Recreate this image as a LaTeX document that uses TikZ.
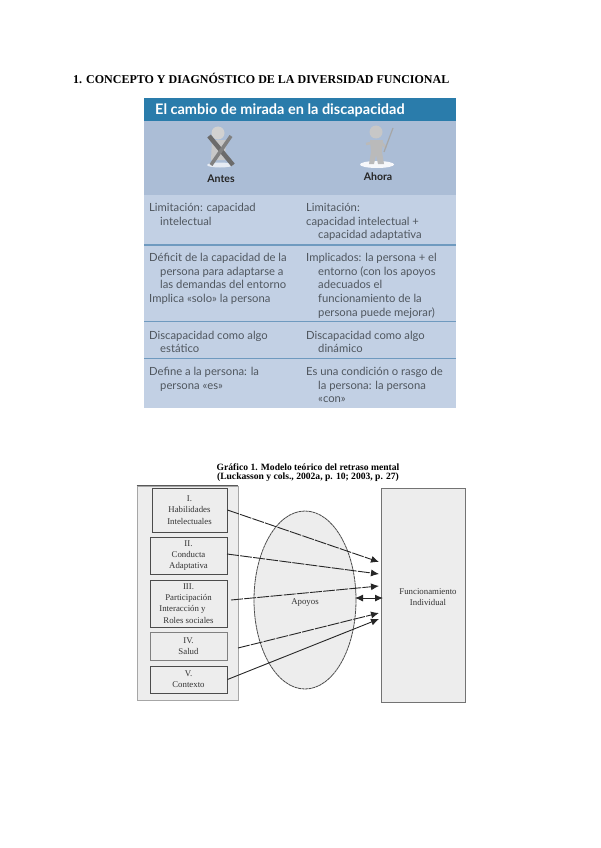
\documentclass[tikz,border=0pt]{standalone}
\usepackage{fontspec}
\setmainfont{Liberation Serif}
\newfontfamily\tabfont{Lato}
\usetikzlibrary{arrows.meta,shapes.geometric}
\definecolor{headblue}{HTML}{2A7CAB}
\definecolor{bandtop}{HTML}{ABBDD6}
\definecolor{bandlow}{HTML}{C2D0E4}
\definecolor{ruleblue}{HTML}{6F9ABF}
\definecolor{tabtext}{HTML}{4F565E}
\definecolor{panelgray}{HTML}{EDEDED}
\tikzset{
  page title/.style={anchor=base west,inner sep=0pt,font=\fontsize{12}{14}\selectfont\bfseries,text=black},
  tabline/.style={anchor=base west,inner sep=0pt,font=\tabfont\fontsize{11.25}{13}\selectfont,text=tabtext,yshift=-1pt},
  tablabel/.style={anchor=center,inner sep=0pt,font=\tabfont\fontsize{10.5}{12}\selectfont\bfseries,text=black!85},
  figcap/.style={anchor=center,inner sep=0pt,font=\fontsize{9.6}{11}\selectfont\bfseries,text=black},
  modelbox/.style={draw=black!70,line width=0.9pt,fill=panelgray,align=center,inner sep=0pt,
     font=\fontsize{8.8}{11.2}\selectfont,text=black!80},
  flow/.style={draw=black!85,line width=0.9pt,-{Latex[length=8pt,width=7pt]}},
  flowdash/.style={flow,dash pattern=on 12pt off 1.2pt},
}
\begin{document}
\begin{tikzpicture}[x=1pt,y=-1pt]
\useasboundingbox[fill=white] (0,0) rectangle (600,848);
\node[page title] (heading) at (73,84) {1. CONCEPTO Y DIAGNÓSTICO DE LA DIVERSIDAD FUNCIONAL};
% table backgrounds
\fill[bandlow] (144,195) rectangle (456,407.5);
\fill[bandtop] (144,121) rectangle (456,195);
\fill[headblue] (144,98) rectangle (456,121);
\foreach \yy in {245,321.5,358.5} \draw[ruleblue,line width=1.2pt] (144,\yy) -- (456,\yy);
\node[anchor=base west,inner sep=0pt,font=\tabfont\fontsize{14.5}{16}\selectfont\bfseries,text=white] (tabtitle) at (155,114) {El cambio de mirada en la discapacidad};
% Antes figure
\fill[white!70!bandtop] (220,165) ellipse (13 and 2.5);
\fill[black!18] (218,133) circle (6.5);
\fill[black!22] (212,140) -- (226,140) -- (225,160) -- (211,160) -- cycle;
\draw[black!58,line width=4.5pt] (209,136) -- (233,165);
\draw[black!50,line width=3.5pt] (231,136) -- (211,165);
\node[tablabel] (antes) at (221,179) {Antes};
% Ahora figure
\fill[white!90!bandtop] (377,164.5) ellipse (17 and 3.5);
\fill[black!22] (376,132) circle (6.5);
\fill[black!27] (370,140) -- (383,140) -- (382,152) -- (384,164) -- (378,164) -- (376,155) -- (374,164) -- (369,164) -- (371,152) -- cycle;
\draw[black!27,line width=2.5pt] (371,143) -- (366,144);
\draw[black!27,line width=2.5pt] (382,143) -- (386,148);
\draw[black!35,line width=1.2pt] (384,152) -- (393,128);
\node[tablabel] (ahora) at (378,177) {Ahora};
% table text, left column
\node[tabline] (l11) at (149,210.5) {Limitación: capacidad};
\node[tabline] (l12) at (160,224) {intelectual};
\node[tabline] (l21) at (149,260) {Déficit de la capacidad de la};
\node[tabline] (l22) at (160,274) {persona para adaptarse a};
\node[tabline] (l23) at (160,287.5) {las demandas del entorno};
\node[tabline] (l24) at (149,301) {Implica «solo» la persona};
\node[tabline] (l31) at (149,338) {Discapacidad como algo};
\node[tabline] (l32) at (160,351.5) {estático};
\node[tabline] (l41) at (149,374.5) {Define a la persona: la};
\node[tabline] (l42) at (160,388) {persona «es»};
% table text, right column
\node[tabline] (r11) at (306,210.5) {Limitación:};
\node[tabline] (r12) at (306,224) {capacidad intelectual +};
\node[tabline] (r13) at (318,237) {capacidad adaptativa};
\node[tabline] (r21) at (306,260) {Implicados: la persona + el};
\node[tabline] (r22) at (318,274) {entorno (con los apoyos};
\node[tabline] (r23) at (318,287.5) {adecuados el};
\node[tabline] (r24) at (318,301) {funcionamiento de la};
\node[tabline] (r25) at (318,315) {persona puede mejorar)};
\node[tabline] (r31) at (306,338) {Discapacidad como algo};
\node[tabline] (r32) at (318,351.5) {dinámico};
\node[tabline] (r41) at (306,374.5) {Es una condición o rasgo de};
\node[tabline] (r42) at (318,388) {la persona: la persona};
\node[tabline] (r43) at (318,401) {«con»};
% model
\node[figcap] (cap1) at (308,467) {Gráfico 1. Modelo teórico del retraso mental};
\node[figcap] (cap2) at (308,477.5) {(Luckasson y cols., 2002a, p. 10; 2003, p. 27)};
\node[draw=black!35,line width=0.8pt,fill=panelgray,minimum width=101pt,minimum height=214pt,inner sep=0pt] (panel) at (187.5,593) {};
\draw[black!65,line width=1pt] (panel.north west) -- (panel.north east);
\node[modelbox,minimum width=75pt,minimum height=44pt] (b1) at (189.5,510) {I.\\Habilidades\\Intelectuales};
\node[modelbox,minimum width=77pt,minimum height=37pt] (b2) at (188.5,555.5) {II.\\Conducta\\Adaptativa};
\node[modelbox,minimum width=77pt,minimum height=47pt] (b3) at (188.5,603.5) {III.\\Participación\\Interacción y\hspace*{12pt}\null\\Roles sociales};
\node[modelbox,draw=black!50,minimum width=77pt,minimum height=28pt] (b4) at (188.5,646) {IV.\\Salud};
\node[modelbox,minimum width=77pt,minimum height=27pt] (b5) at (188.5,679.5) {V.\\Contexto};
\node[ellipse,draw=black!70,dash pattern=on 3pt off 0.5pt,line width=0.8pt,fill=panelgray,minimum width=102pt,minimum height=178pt,inner sep=0pt,align=center,
  font=\fontsize{8.8}{10}\selectfont,text=black!80] (apoyos) at (305,600) {\mbox{}\\Apoyos};
\node[draw=black!55,line width=1pt,fill=panelgray,minimum width=84pt,minimum height=214pt,inner sep=0pt,align=center,
  font=\fontsize{8.8}{10.5}\selectfont,text=black!80] (func) at (423,595) {\mbox{}\\\hspace*{10pt}Funcionamiento\\\hspace*{10pt}Individual};
\coordinate (s1) at (b1.east);
\coordinate (s2) at (227,554);
\coordinate (s3) at (231,600);
\coordinate (s4) at (238,648);
\coordinate (s5) at (b5.east);
\coordinate (t1) at (379,562);
\coordinate (t2) at (379,574);
\coordinate (t3) at (379,586);
\coordinate (t4) at (379,613);
\coordinate (t5) at (379,619);
\coordinate (dl) at (355,598);
\coordinate (dr) at (383,598);
\draw[flowdash] (s1) -- (t1);
\draw[flowdash] (s2) -- (t2);
\draw[flowdash] (s3) -- (t3);
\draw[flowdash] (s4) -- (t4);
\draw[flow] (s5) -- (t5);
\draw[flow,{Latex[length=8pt,width=7pt]}-{Latex[length=8pt,width=7pt]}] (dl) -- (dr);
\end{tikzpicture}
\end{document}
